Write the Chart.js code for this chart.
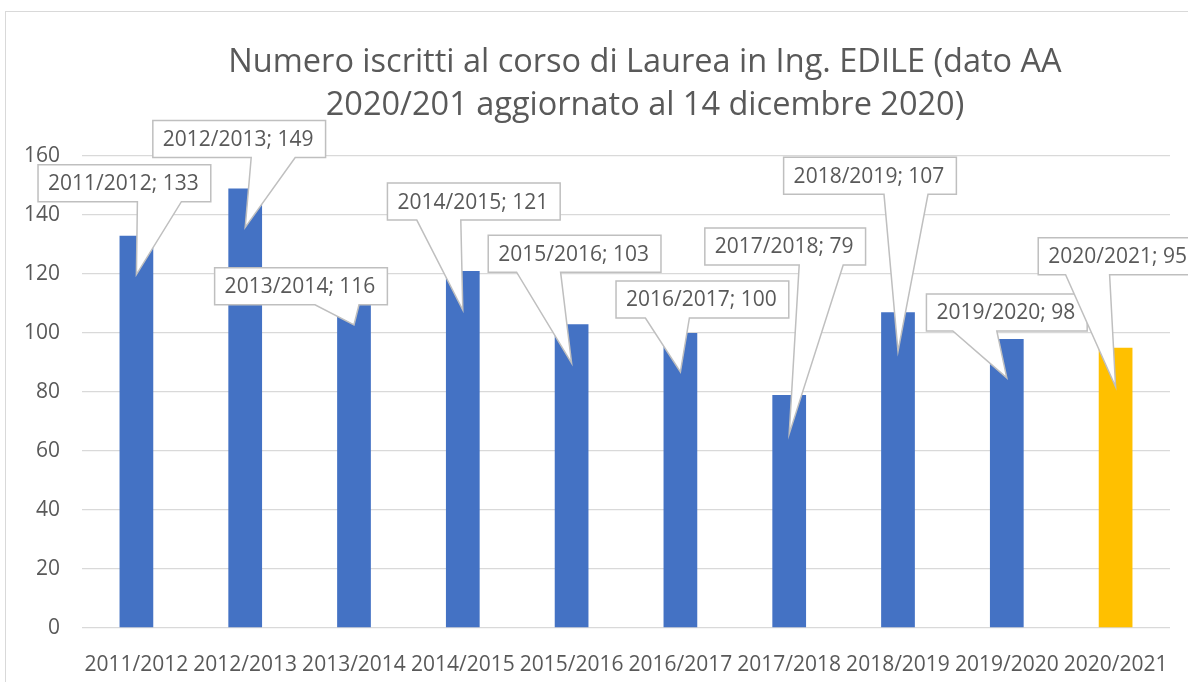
<!DOCTYPE html>
<html>
<head>
<meta charset="utf-8">
<script src="https://cdn.jsdelivr.net/npm/chart.js@4"></script>
<style>
  html, body { margin: 0; padding: 0; background: #fff; overflow: hidden; width: 1188px; height: 682px; }
  #cornice { position: absolute; left: 5px; top: 11px; width: 1300px; height: 720px; border: 1.5px solid #d9d9d9; }
  #myChart { position: absolute; left: 0; top: 0; }
</style>
</head>
<body>
<div id="cornice"></div>
<canvas id="myChart" width="1290" height="682"></canvas>
<script>
// dati
const anniAccademici = ["2011/2012", "2012/2013", "2013/2014", "2014/2015", "2015/2016",
  "2016/2017", "2017/2018", "2018/2019", "2019/2020", "2020/2021"];
const iscritti = [133, 149, 116, 121, 103, 100, 79, 107, 98, 95];
const titolo = ["Numero iscritti al corso di Laurea in Ing. EDILE (dato AA",
  "2020/201 aggiornato al 14 dicembre 2020)"];
const yMin = 0, yMax = 160, yPasso = 20;

// posizione dei fumetti rispetto alla cima della barra: [dx centro box, dy alto box, dx base punta]
const posFumetti = [[-12, -71, 1], [-6, -68, 6], [-53, -18, -39], [11, -88, -46], [3, -89, -55],
  [22, -52, -35], [-4, -167, 10], [-28, -155, -14], [0, -45, -54], [3, -110, -50]];

const FONT = "'Open Sans', 'Liberation Sans', sans-serif";
const GRIGIO = "#595959";

// plugin per le etichette a fumetto (stile Excel)
const fumetti = {
  id: "fumetti",
  afterDatasetsDraw(chart) {
    const ctx = chart.ctx;
    const meta = chart.getDatasetMeta(0);
    ctx.save();
    ctx.font = "21px " + FONT;
    meta.data.forEach(function (bar, i) {
      const testo = anniAccademici[i] + "; " + iscritti[i];
      const w = ctx.measureText(testo).width + 22;
      const h = 37;
      const p = posFumetti[i];
      const x0 = bar.x + p[0] - w / 2;
      const y0 = bar.y + p[1];
      const bx = bar.x + p[2];
      const punta = { x: bar.x, y: bar.y + 39 };
      ctx.beginPath();
      ctx.moveTo(x0, y0);
      ctx.lineTo(x0 + w, y0);
      ctx.lineTo(x0 + w, y0 + h);
      ctx.lineTo(bx + 44, y0 + h);
      ctx.lineTo(punta.x, punta.y);
      ctx.lineTo(bx, y0 + h);
      ctx.lineTo(x0, y0 + h);
      ctx.closePath();
      ctx.fillStyle = "#fff";
      ctx.fill();
      ctx.strokeStyle = "#bfbfbf";
      ctx.lineWidth = 1.5;
      ctx.stroke();
      ctx.fillStyle = GRIGIO;
      ctx.textBaseline = "middle";
      ctx.textAlign = "left";
      ctx.fillText(testo, x0 + 10, y0 + h / 2 + 1);
    });
    ctx.restore();
  },
};

const config = {
  type: "bar",
  data: {
    labels: anniAccademici,
    datasets: [{
      data: iscritti,
      backgroundColor: (c) => (c.dataIndex === anniAccademici.length - 1 ? "#ffc000" : "#4472c4"),
      categoryPercentage: 0.31,
      barPercentage: 1,
    }],
  },
  options: {
    responsive: false,
    animation: false,
    devicePixelRatio: 1,
    layout: { padding: 0 },
    plugins: {
      legend: { display: false },
      tooltip: { enabled: false },
      title: {
        display: true,
        text: titolo,
        color: GRIGIO,
        font: { family: FONT, size: 32.5, weight: "normal", lineHeight: 43 / 32.5 },
        padding: { top: 41.5, bottom: 28.5 },
      },
    },
    scales: {
      x: {
        grid: { display: false },
        border: { display: false },
        ticks: { color: GRIGIO, font: { family: FONT, size: 21 }, padding: 16, maxRotation: 0, autoSkip: false },
        afterFit: (s) => { s.height = 54; },
      },
      y: {
        min: yMin,
        max: yMax,
        grid: { color: "#d9d9d9", lineWidth: 1.3, drawTicks: false },
        border: { display: false },
        ticks: { stepSize: yPasso, color: GRIGIO, font: { family: FONT, size: 21 }, padding: 22 },
        afterFit: (s) => { s.width = 82; },
      },
      // asse vuoto a destra: lascia spazio come nell'originale, il titolo resta centrato sul riquadro
      margineDx: {
        type: "linear",
        position: "right",
        grid: { drawOnChartArea: false, display: false },
        border: { display: false },
        ticks: { display: false },
        afterFit: (s) => { s.width = 120; },
      },
    },
  },
  plugins: [fumetti],
};

let chart = new Chart(document.getElementById("myChart").getContext("2d"), config);
</script>
</body>
</html>
